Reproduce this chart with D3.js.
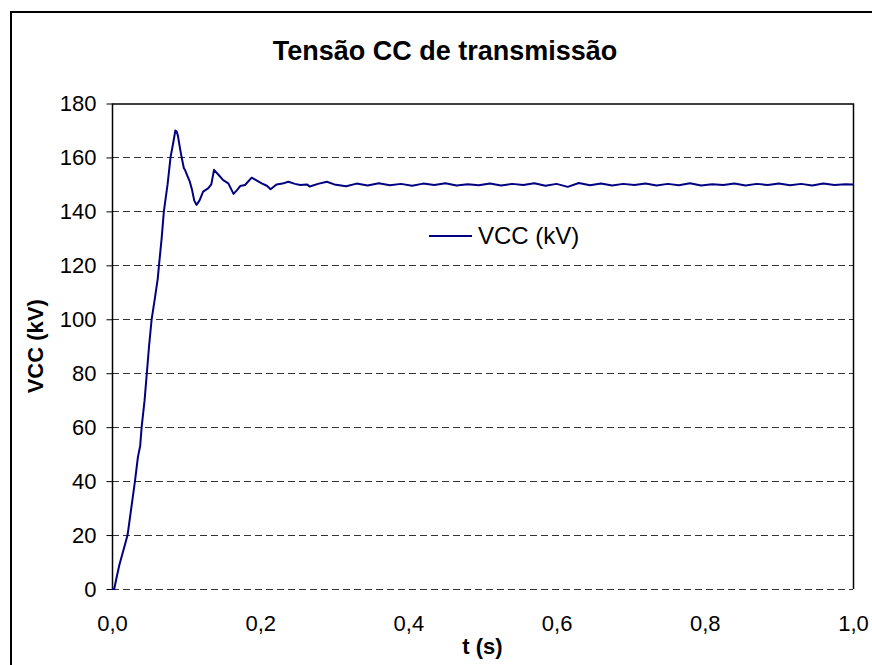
<!DOCTYPE html>
<html><head><meta charset="utf-8">
<script src="https://cdn.jsdelivr.net/npm/d3@7"></script>
<style>
body{margin:0;background:#fff}
text{font-family:"Liberation Sans",Arial,Helvetica,sans-serif;fill:#000}
</style>
</head><body>
<svg id="chart" width="872" height="665"></svg>
<script>
const chartTitle = "Tensão CC de transmissão";
const xTitle = "t (s)";
const yTitle = "VCC (kV)";
const seriesName = "VCC (kV)";
const xTicks = [0, 0.2, 0.4, 0.6, 0.8, 1.0];
const yTicks = [0, 20, 40, 60, 80, 100, 120, 140, 160, 180];

const timeS = [0.000,0.003,0.006,0.010,0.014,0.018,0.021,0.026,0.031,0.035,0.038,0.040,0.044,0.047,0.050,0.0535,0.058,0.0617,0.0634,0.067,0.070,0.075,0.079,0.083,0.0855,0.0873,0.089,0.092,0.094,0.097,0.0985,0.102,0.105,0.108,0.111,0.114,0.118,0.123,0.130,0.134,0.1377,0.144,0.150,0.157,0.164,0.169,0.173,0.1795,0.1885,0.195,0.202,0.209,0.214,0.222,0.230,0.238,0.247,0.254,0.263,0.267,0.278,0.290,0.300,0.316,0.330,0.345,0.360,0.375,0.390,0.405,0.420,0.435,0.450,0.465,0.480,0.495,0.510,0.525,0.540,0.555,0.570,0.585,0.600,0.615,0.630,0.645,0.660,0.675,0.690,0.705,0.720,0.735,0.750,0.765,0.780,0.795,0.810,0.825,0.840,0.855,0.870,0.885,0.900,0.915,0.930,0.945,0.960,0.975,0.990,1.000];
const vccKV = [0,0,4,9,13,17,20,30,40,49,53,60,70,80,90,100,108,115,120,130,140,150,160,166,170,169.6,168,163,160,156,155.4,153,151,148,144,142.4,144,147.3,148.6,150,155.4,153.5,151.6,150.4,146.5,148,149.4,149.8,152.5,151.5,150.4,149.5,148.2,150.0,150.3,151.0,150.2,149.8,150.0,149.2,150.2,151.0,150.0,149.3,150.3,149.6,150.4,149.7,150.2,149.5,150.3,149.8,150.4,149.6,150.1,149.7,150.3,149.6,150.2,149.8,150.4,149.5,150.2,149.1,150.5,149.7,150.3,149.6,150.2,149.8,150.3,149.6,150.2,149.7,150.4,149.6,150.1,149.8,150.3,149.6,150.2,149.8,150.3,149.7,150.2,149.6,150.3,149.8,150.1,150.0];

const svg = d3.select("#chart");
const plot = {left:112, right:853, top:103.5, bottom:589};
const x = d3.scaleLinear().domain([0,1]).range([plot.left, plot.right]);
const y = d3.scaleLinear().domain([0,180]).range([plot.bottom, plot.top]);

// outer frame
svg.append("rect").attr("x",11).attr("y",12).attr("width",900).attr("height",700)
  .attr("fill","#fff").attr("stroke","#000").attr("stroke-width",2);

// title
svg.append("text").attr("x",445).attr("y",60).attr("text-anchor","middle")
  .attr("font-size",27).attr("font-weight","bold").text(chartTitle);

// gridlines
svg.append("g").selectAll("line").data(yTicks.filter(d=>d<180)).join("line")
  .attr("x1",plot.left).attr("x2",plot.right)
  .attr("y1",d=>Math.round(y(d))+0.5).attr("y2",d=>Math.round(y(d))+0.5)
  .attr("stroke","#333").attr("stroke-width",1).attr("stroke-dasharray","7,4");

// plot border (top, right, left)
svg.append("path")
  .attr("d",`M${plot.left+0.5},${plot.bottom}V${plot.top+0.5}H${plot.right+0.5}V${plot.bottom}`)
  .attr("fill","none").attr("stroke","#000").attr("stroke-width",1.5);

// y axis
const yAxis = d3.axisLeft(y).tickValues(yTicks).tickSize(6).tickPadding(10).tickFormat(d3.format("d"));
const gy = svg.append("g").attr("transform",`translate(${plot.left+0.5},0)`).call(yAxis);
gy.select(".domain").remove();
gy.selectAll(".tick line").attr("stroke","#000");
gy.selectAll("text").attr("font-size",22).attr("font-family","Liberation Sans, Arial, sans-serif").attr("fill","#000");

// x axis labels
const fmt = d => d3.format(".1f")(d).replace(".", ",");
const xAxis = d3.axisBottom(x).tickValues(xTicks).tickSize(0).tickPadding(26).tickFormat(fmt);
const gx = svg.append("g").attr("transform",`translate(0,${plot.bottom})`).call(xAxis);
gx.select(".domain").remove();
gx.selectAll("text").attr("font-size",22).attr("font-family","Liberation Sans, Arial, sans-serif").attr("fill","#000");

// axis titles
svg.append("text").attr("x",(plot.left+plot.right)/2).attr("y",654).attr("text-anchor","middle")
  .attr("font-size",22).attr("font-weight","bold").text(xTitle);
svg.append("text").attr("transform",`translate(43,${(plot.top+plot.bottom)/2}) rotate(-90)`)
  .attr("text-anchor","middle").attr("font-size",22).attr("font-weight","bold").text(yTitle);

// line
const data = timeS.map((t,i)=>({t, v:vccKV[i]}));
svg.append("path").datum(data)
  .attr("d", d3.line().x(d=>x(d.t)).y(d=>y(d.v)))
  .attr("fill","none").attr("stroke","#000080").attr("stroke-width",2).attr("stroke-linejoin","round");

// legend
svg.append("line").attr("x1",429).attr("x2",472).attr("y1",236).attr("y2",236)
  .attr("stroke","#000080").attr("stroke-width",2);
svg.append("text").attr("x",478).attr("y",244).attr("font-size",24).text(seriesName);
</script>
</body></html>
